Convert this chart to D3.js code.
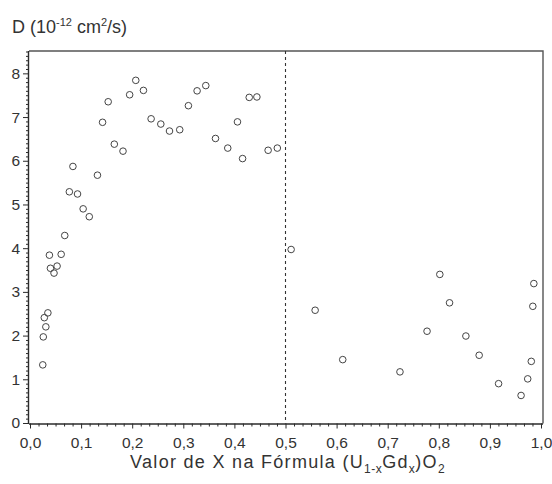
<!DOCTYPE html>
<html>
<head>
<meta charset="utf-8">
<script src="https://cdn.jsdelivr.net/npm/d3@7"></script>
<style>
  html, body { margin: 0; padding: 0; background: #fff; }
  svg { display: block; font-family: "Liberation Sans", Arial, sans-serif; }
</style>
</head>
<body>
<svg id="chart" width="552" height="484"></svg>
<script>
// Gd fraction x (composition) and diffusion coefficient D (1e-12 cm^2/s)
const xValues = [
  0.025, 0.026, 0.031, 0.028, 0.035, 0.038, 0.040, 0.047, 0.053, 0.061,
  0.068, 0.077, 0.084, 0.093, 0.104, 0.116, 0.132, 0.142, 0.153, 0.165,
  0.182, 0.195, 0.207, 0.222, 0.237, 0.256, 0.273, 0.293, 0.310, 0.327,
  0.344, 0.363, 0.387, 0.406, 0.416, 0.429, 0.444, 0.466, 0.484,
  0.511, 0.558, 0.612, 0.724, 0.777, 0.802, 0.821, 0.853, 0.879, 0.917,
  0.961, 0.974, 0.981, 0.984, 0.986
];
const dValues = [
  1.33, 1.97, 2.20, 2.41, 2.52, 3.84, 3.54, 3.43, 3.59, 3.86,
  4.29, 5.29, 5.87, 5.24, 4.90, 4.72, 5.67, 6.88, 7.35, 6.38,
  6.22, 7.51, 7.84, 7.61, 6.96, 6.84, 6.68, 6.71, 7.26, 7.60,
  7.72, 6.51, 6.29, 6.89, 6.05, 7.45, 7.46, 6.24, 6.29,
  3.97, 2.58, 1.45, 1.17, 2.10, 3.40, 2.75, 1.99, 1.55, 0.90,
  0.63, 1.01, 1.41, 2.67, 3.19
];
const xTicks = [0, 0.1, 0.2, 0.3, 0.4, 0.5, 0.6, 0.7, 0.8, 0.9, 1.0];
const yTicks = [0, 1, 2, 3, 4, 5, 6, 7, 8];
const boundaryX = [0.5];

const svg = d3.select("#chart");
const ink = "#2b2b2b";
const fontFam = "'Liberation Sans', Arial, sans-serif";

const x = d3.scaleLinear().domain([0, 1]).range([30, 541]);
const y = d3.scaleLinear().domain([0, 8.5]).range([423, 51.5]);

const frame = { left: 29, right: 543, top: 51, bottom: 423.5 };

// frame (top and right)
svg.append("path")
  .attr("d", `M${frame.left},${frame.top}H${frame.right}V${frame.bottom}`)
  .attr("fill", "none").attr("stroke", "#555").attr("stroke-width", 1.4);

const fmt = d => d3.format(".1f")(d).replace(".", ",");

// x minor ticks
const xMinor = d3.range(0, 61).map(i => i / 60).filter(v => Math.abs(v * 10 - Math.round(v * 10)) > 1e-6);
svg.append("g")
  .attr("transform", `translate(0,${frame.bottom})`)
  .call(d3.axisBottom(x).tickValues(xMinor).tickSize(3).tickFormat(""))
  .call(g => g.select(".domain").remove())
  .call(g => g.selectAll("line").attr("stroke", ink));

// x major axis
svg.append("g")
  .attr("transform", `translate(0,${frame.bottom})`)
  .call(d3.axisBottom(x).tickValues(xTicks).tickSize(5).tickPadding(8).tickFormat(fmt).tickSizeOuter(0))
  .call(g => g.select(".domain").attr("stroke", ink).attr("stroke-width", 1.4).attr("d", `M${frame.left},0.5H${frame.right}`))
  .call(g => g.selectAll("line").attr("stroke", ink))
  .call(g => g.selectAll("text").attr("fill", "#333").style("font-size", "15.5px").style("font-family", fontFam));

// y minor ticks
const yMinor = d3.range(0, 86).map(i => i / 10).filter(v => Math.abs(v - Math.round(v)) > 1e-6);
svg.append("g")
  .attr("transform", `translate(${frame.left},0)`)
  .call(d3.axisLeft(y).tickValues(yMinor).tickSize(3).tickFormat(""))
  .call(g => g.select(".domain").remove())
  .call(g => g.selectAll("line").attr("stroke", ink));

// y major axis
svg.append("g")
  .attr("transform", `translate(${frame.left},0)`)
  .call(d3.axisLeft(y).tickValues(yTicks).tickSize(6).tickPadding(3).tickFormat(d3.format("d")).tickSizeOuter(0))
  .call(g => g.select(".domain").attr("stroke", ink).attr("stroke-width", 1.4).attr("d", `M-0.5,${frame.top}V${frame.bottom}`))
  .call(g => g.selectAll("line").attr("stroke", ink))
  .call(g => g.selectAll("text").attr("fill", "#333").style("font-size", "15.5px").style("font-family", fontFam));

// dashed boundary line
svg.selectAll(".boundary").data(boundaryX).enter().append("line")
  .attr("class", "boundary")
  .attr("x1", d => x(d)).attr("x2", d => x(d))
  .attr("y1", frame.top).attr("y2", frame.bottom)
  .attr("stroke", "#333").attr("stroke-width", 1.1)
  .attr("stroke-dasharray", "3,3");

// points
const pts = xValues.map((v, i) => ({ x: v, d: dValues[i] }));
svg.append("g").selectAll("circle").data(pts).enter().append("circle")
  .attr("cx", p => x(p.x)).attr("cy", p => y(p.d)).attr("r", 3.3)
  .attr("fill", "none").attr("stroke", "#444").attr("stroke-width", 1);

// y title
const yt = svg.append("text").attr("x", 12).attr("y", 33)
  .attr("fill", "#333").style("font-size", "18px");
yt.append("tspan").text("D  (10");
yt.append("tspan").attr("dy", -7).style("font-size", "11px").text("-12");
yt.append("tspan").attr("dy", 7).text(" cm");
yt.append("tspan").attr("dy", -7).style("font-size", "11px").text("2");
yt.append("tspan").attr("dy", 7).text("/s)");

// x title
const xt = svg.append("text").attr("x", 288).attr("y", 468)
  .attr("text-anchor", "middle").attr("fill", "#333")
  .style("font-size", "18px").style("letter-spacing", "1.3px");
xt.append("tspan").text("Valor de X na Fórmula (U");
xt.append("tspan").attr("dy", 5).style("font-size", "12px").style("letter-spacing", "0.5px").text("1-x");
xt.append("tspan").attr("dy", -5).text("Gd");
xt.append("tspan").attr("dy", 5).style("font-size", "12px").style("letter-spacing", "0.5px").text("x");
xt.append("tspan").attr("dy", -5).text(")O");
xt.append("tspan").attr("dy", 5).style("font-size", "12px").text("2");
</script>
</body>
</html>
